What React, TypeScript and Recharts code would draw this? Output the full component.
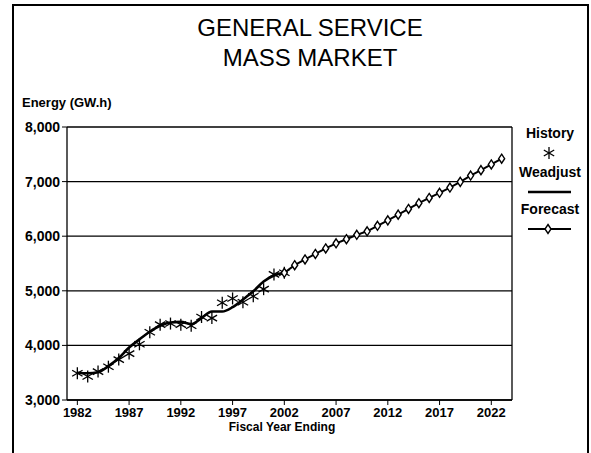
import React from "react";
import { LineChart, Line, XAxis, YAxis, CartesianGrid, ReferenceLine } from "recharts";

// values (GW.h)
const historyYears = [1982, 1983, 1984, 1985, 1986, 1987, 1988, 1989, 1990, 1991, 1992, 1993, 1994, 1995, 1996, 1997, 1998, 1999, 2000, 2001, 2002];
const historyValues = [3490, 3430, 3520, 3610, 3740, 3850, 4020, 4240, 4380, 4400, 4380, 4360, 4520, 4500, 4780, 4860, 4790, 4900, 5030, 5300, 5330];

const weadjustValues = [3500, 3490, 3510, 3620, 3770, 3960, 4110, 4250, 4360, 4420, 4430, 4390, 4500, 4620, 4620, 4700, 4840, 4990, 5170, 5280, 5330];

const forecastYears = [2002, 2003, 2004, 2005, 2006, 2007, 2008, 2009, 2010, 2011, 2012, 2013, 2014, 2015, 2016, 2017, 2018, 2019, 2020, 2021, 2022, 2023];
const forecastValues = [5330, 5470, 5575, 5675, 5775, 5870, 5945, 6025, 6090, 6190, 6290, 6395, 6500, 6605, 6700, 6795, 6890, 6995, 7110, 7210, 7315, 7420];

const xTicks = [1982, 1987, 1992, 1997, 2002, 2007, 2012, 2017, 2022];
const yTicks = [3000, 4000, 5000, 6000, 7000, 8000];

const rows: { year: number; history?: number; weadjust?: number; forecast?: number }[] = [];
const rowFor = (y: number) => {
  let r = rows.find((d) => d.year === y);
  if (!r) {
    r = { year: y };
    rows.push(r);
  }
  return r;
};
historyYears.forEach((y, i) => {
  const r = rowFor(y);
  r.history = historyValues[i];
  r.weadjust = weadjustValues[i];
});
forecastYears.forEach((y, i) => {
  rowFor(y).forecast = forecastValues[i];
});
rows.sort((a, b) => a.year - b.year);

const FONT = "'Liberation Sans', Arial, sans-serif";

const Star = (props: any) => {
  const { cx, cy } = props;
  if (cx == null || cy == null || props.value == null) return null;
  const r = 6;
  const a = r * Math.cos(Math.PI / 6);
  const b = r * 0.5;
  return (
    <g stroke="#000" strokeWidth={1.3}>
      <line x1={cx} y1={cy - r} x2={cx} y2={cy + r} />
      <line x1={cx - a} y1={cy - b} x2={cx + a} y2={cy + b} />
      <line x1={cx - a} y1={cy + b} x2={cx + a} y2={cy - b} />
    </g>
  );
};

const Diamond = (props: any) => {
  const { cx, cy } = props;
  if (cx == null || cy == null || props.value == null) return null;
  return (
    <polygon
      points={`${cx},${cy - 4.5} ${cx + 3},${cy} ${cx},${cy + 4.5} ${cx - 3},${cy}`}
      fill="#fff"
      stroke="#000"
      strokeWidth={1.4}
    />
  );
};

const txt: React.CSSProperties = {
  position: "absolute",
  fontFamily: FONT,
  fontSize: 12,
  fontWeight: "bold",
  lineHeight: "14px",
  color: "#000",
  whiteSpace: "nowrap",
};

const legendTxt: React.CSSProperties = { ...txt, fontSize: 14, lineHeight: "16px", width: 80, textAlign: "center" };

export default function App() {
  return (
    <div style={{ position: "absolute", left: 0, top: 0, width: 591, height: 453, overflow: "hidden", background: "#fff" }}>
      <div style={{ position: "absolute", left: 12, top: 4, width: 573, height: 470, border: "2px solid #000" }} />
      <div
        style={{
          position: "absolute",
          left: 0,
          top: 13,
          width: 620,
          textAlign: "center",
          fontFamily: FONT,
          fontSize: 24,
          lineHeight: "30px",
        }}
      >
        GENERAL SERVICE
        <br />
        MASS MARKET
      </div>
      <div style={{ ...txt, left: 22, top: 96, fontSize: 13 }}>Energy (GW.h)</div>
      <div style={{ ...txt, left: 182, top: 420, width: 200, textAlign: "center" }}>Fiscal Year Ending</div>

      <LineChart
        width={591}
        height={453}
        data={rows}
        margin={{ top: 127, right: 79, bottom: 23, left: 7 }}
        style={{ position: "absolute", left: 0, top: 0 }}
      >
        <CartesianGrid horizontal vertical={false} stroke="#000" strokeWidth={1.3} />
        <XAxis
          dataKey="year"
          type="number"
          domain={[1981, 2024]}
          ticks={xTicks}
          interval={0}
          height={30}
          tickSize={5}
          tickMargin={3}
          axisLine={{ stroke: "#000", strokeWidth: 1.3 }}
          tickLine={{ stroke: "#000" }}
          tick={{ fill: "#000", fontFamily: FONT, fontSize: 13, fontWeight: "bold" }}
        />
        <YAxis
          type="number"
          domain={[3000, 8000]}
          ticks={yTicks}
          interval={0}
          width={60}
          tickSize={5}
          tickMargin={2}
          tickFormatter={(v: number) => v.toLocaleString("en-US")}
          axisLine={{ stroke: "#000", strokeWidth: 1.3 }}
          tickLine={{ stroke: "#000" }}
          tick={{ fill: "#000", fontFamily: FONT, fontSize: 14, fontWeight: "bold" }}
        />
        <ReferenceLine x={2024} stroke="#000" strokeWidth={1.3} />
        <Line
          dataKey="weadjust"
          type="monotone"
          stroke="#000"
          strokeWidth={2.6}
          dot={false}
          activeDot={false}
          isAnimationActive={false}
        />
        <Line
          dataKey="history"
          stroke="none"
          dot={<Star />}
          activeDot={false}
          isAnimationActive={false}
        />
        <Line
          dataKey="forecast"
          type="linear"
          stroke="#000"
          strokeWidth={2}
          dot={<Diamond />}
          activeDot={false}
          isAnimationActive={false}
        />
      </LineChart>

      <div style={{ ...legendTxt, left: 510, top: 125 }}>History</div>
      <svg style={{ position: "absolute", left: 539, top: 143 }} width={20} height={20}>
        <Star cx={10} cy={10} value={1} />
      </svg>
      <div style={{ ...legendTxt, left: 510, top: 164 }}>Weadjust</div>
      <svg style={{ position: "absolute", left: 526, top: 186 }} width={48} height={12}>
        <line x1={2} y1={6} x2={45} y2={6} stroke="#000" strokeWidth={2.4} />
      </svg>
      <div style={{ ...legendTxt, left: 510, top: 201 }}>Forecast</div>
      <svg style={{ position: "absolute", left: 526, top: 221 }} width={48} height={16}>
        <line x1={2} y1={8} x2={45} y2={8} stroke="#000" strokeWidth={2} />
        <Diamond cx={22} cy={8} value={1} />
      </svg>
    </div>
  );
}
